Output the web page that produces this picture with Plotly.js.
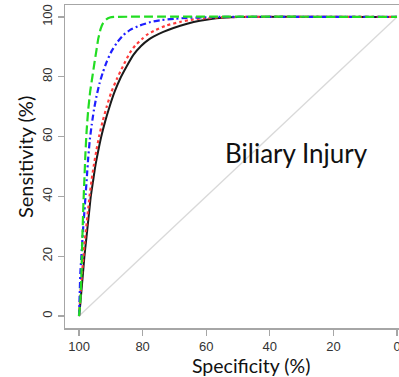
<!DOCTYPE html>
<html>
<head>
<meta charset="utf-8">
<script src="https://cdn.plot.ly/plotly-3.0.1.min.js"></script>
<style>html,body{margin:0;padding:0;background:#fff;}#chart{width:399px;height:377px;}</style>
</head>
<body>
<div id="chart"></div>
<script>
// Data (specificity %, sensitivity %)
const blackSpec = [100, 99.6, 99.2, 98.7, 98.3, 97.8, 97.3, 96.8, 96.3, 95.6, 94.9, 94.0, 93.0, 91.8, 90.4, 88.8, 87.0, 85.0, 82.9, 80.5, 78, 76.6, 73.5, 70.3, 66, 62, 58, 55, 50, 0];
const blackSens = [0, 4, 9, 15, 20, 25, 30, 35, 40, 45, 50, 55, 60, 65, 70, 75, 79.5, 83.5, 87.3, 90.3, 92.5, 93.4, 95, 96.3, 97.7, 98.7, 99.4, 99.7, 100, 100];

const redSpec = [100, 99.7, 99.4, 99.0, 98.6, 98.2, 97.7, 97.2, 96.7, 96.1, 95.4, 94.6, 93.7, 92.6, 91.3, 89.8, 88.0, 86.2, 84.0, 82.3, 80, 78.7, 76, 72.4, 68, 64, 59.8, 55, 50, 0];
const redSens = [0, 5, 10, 15, 20, 25, 30, 35, 40, 45, 50, 55, 60, 65, 70, 75, 79.5, 83.5, 88, 90.5, 92.8, 94, 95.6, 97.2, 98.4, 99.2, 99.6, 99.9, 100, 100];

const blueSpec = [100, 99.8, 99.6, 99.2, 98.8, 98.3, 97.9, 97.5, 97.1, 96.6, 96.0, 95.3, 94.5, 93.5, 92.5, 91.3, 89.8, 88, 86, 83.9, 81, 77.5, 74.5, 70, 66, 60, 56, 0];
const blueSens = [0, 7, 14, 21, 28, 35, 41, 47, 53, 59, 64, 69, 73.5, 78, 81.5, 85, 88.5, 91.5, 94, 95.7, 97.1, 98.3, 98.9, 99.4, 99.7, 99.9, 100, 100];

const greenSpec = [100, 99.6, 99.3, 99.1, 98.9, 98.6, 98.3, 98.0, 97.6, 97.1, 96.5, 95.8, 95.1, 94.5, 93.9, 93.2, 92.4, 91.4, 90.3, 89, 0];
const greenSens = [0, 5, 12, 20, 28, 38, 46, 54, 62, 69, 75, 80, 85, 89, 93, 96, 98, 99.2, 99.8, 100, 100];

const diagSpec = [100, 0];
const diagSens = [0, 100];

const tickVals = [0, 20, 40, 60, 80, 100];
const tickText = ['0', '20', '40', '60', '80', '100'];

const traces = [
  {x: diagSpec, y: diagSens, mode: 'lines', line: {color: '#d9d9d9', width: 1.3}, hoverinfo: 'skip'},
  {x: blackSpec, y: blackSens, mode: 'lines', line: {color: '#1a1a1a', width: 2, shape: 'spline', smoothing: 0.5}},
  {x: redSpec, y: redSens, mode: 'lines', line: {color: '#ff3b3b', width: 2.2, dash: 'dot', shape: 'spline', smoothing: 0.5}},
  {x: blueSpec, y: blueSens, mode: 'lines', line: {color: '#1f1fff', width: 2.2, dash: '6px,3px,2px,3px', shape: 'spline', smoothing: 0.5}},
  {x: greenSpec, y: greenSens, mode: 'lines', line: {color: '#22dd22', width: 2.2, dash: '9px,4px', shape: 'spline', smoothing: 0.5}}
];

const tickFont = {family: 'Liberation Sans, Arial, sans-serif', size: 13, color: '#333'};
const labelFamily = 'Lato, Open Sans, sans-serif';

const layout = {
  width: 399, height: 377,
  margin: {l: 65, r: 0, t: 5, b: 49, pad: 0},
  paper_bgcolor: '#fff', plot_bgcolor: '#fff',
  showlegend: false,
  xaxis: {
    range: [104.41, -0.63], tickvals: tickVals, ticktext: tickText,
    showgrid: false, zeroline: false, showline: true, mirror: true,
    linecolor: '#a6a6a6', linewidth: 1.5,
    ticks: 'outside', ticklen: 6, tickcolor: '#a6a6a6', tickwidth: 1.3,
    tickfont: tickFont, ticklabeloverflow: 'allow'
  },
  yaxis: {
    range: [-4.0, 104.0], tickvals: tickVals, ticktext: tickText,
    showgrid: false, zeroline: false, showline: true, mirror: false,
    linecolor: '#a6a6a6', linewidth: 1.5,
    ticks: 'outside', ticklen: 6, tickcolor: '#a6a6a6', tickwidth: 1.3,
    tickangle: -90, tickfont: tickFont, ticklabeloverflow: 'allow'
  },
  annotations: [
    {text: 'Specificity (%)', xref: 'paper', yref: 'paper', x: (251 - 65) / 334, y: -(365 - 328) / 323,
     xanchor: 'center', yanchor: 'middle', showarrow: false, font: {family: labelFamily, size: 19.5, color: '#111'}},
    {text: 'Sensitivity (%)', xref: 'paper', yref: 'paper', x: -(65 - 25) / 334, y: (328 - 157) / 323,
     xanchor: 'center', yanchor: 'middle', textangle: -90, showarrow: false, font: {family: labelFamily, size: 20, color: '#111'}},
    {text: 'Biliary Injury', xref: 'paper', yref: 'paper', x: (296 - 65) / 334, y: (328 - 153) / 323,
     xanchor: 'center', yanchor: 'middle', showarrow: false,
     font: {family: labelFamily, size: 26, color: '#111'}}
  ]
};

Plotly.newPlot('chart', traces, layout, {displayModeBar: false, staticPlot: true});
</script>
</body>
</html>
